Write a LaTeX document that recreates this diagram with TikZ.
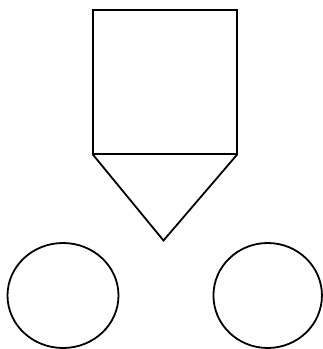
\documentclass[tikz,border=0pt]{standalone}
\usetikzlibrary{shapes.geometric}
\begin{document}
\begin{tikzpicture}[x=1pt,y=-1pt,
  shapeline/.style={draw=black,line width=1.8pt,inner sep=0pt,outer sep=0pt},
  boxshape/.style={shapeline,rectangle,minimum width=144.6pt,minimum height=144.3pt},
  ballshape/.style={shapeline,ellipse,minimum height=105pt}]
\useasboundingbox (0,0) rectangle (323,349);
\node[boxshape] (sq) at (165,82.2) {};
\coordinate (apex) at (163.5,240.5);
\draw[line width=1.8pt,line join=miter] (sq.south west) -- (apex) -- (sq.south east);
\node[ballshape,minimum width=111pt] (lc) at (63,295.5) {};
\node[ballshape,minimum width=108.5pt] (rc) at (267.7,295.5) {};
\end{tikzpicture}
\end{document}
